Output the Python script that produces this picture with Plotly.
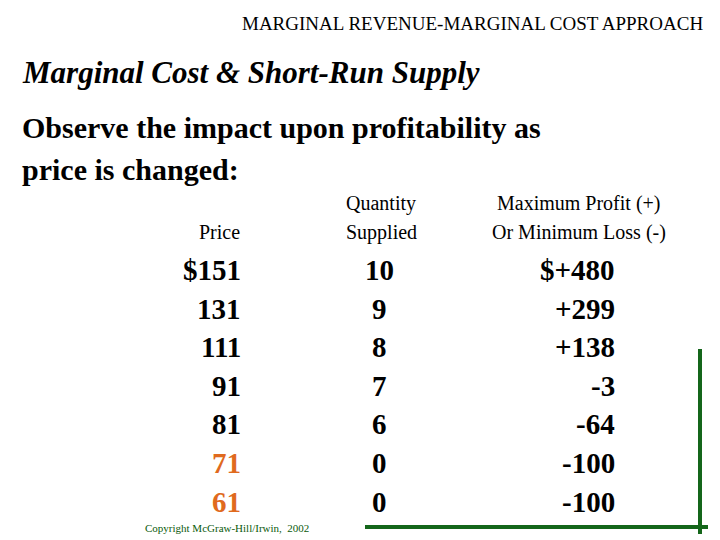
import plotly.graph_objects as go

prices = ["$151", "131", "111", "91", "81", "71", "61"]
quantities = ["10", "9", "8", "7", "6", "0", "0"]
profits = ["$+480", "+299", "+138", "-3", "-64", "-100", "-100"]
orange_rows = [5, 6]

F = "Liberation Serif, Times New Roman, serif"
DX, DY = -10, -9
fig = go.Figure()
ann = []
def A(x, y, t, size, color="black", bold=False, italic=False, xanchor="left"):
    if bold: t = "<b>" + t + "</b>"
    if italic: t = "<i>" + t + "</i>"
    ann.append(dict(x=x + DX, y=y + DY, text=t, showarrow=False, xref="x", yref="y",
                    xanchor=xanchor, yanchor="middle",
                    font=dict(family=F, size=size, color=color)))

A(707, 24, "MARGINAL REVENUE-MARGINAL COST APPROACH", 19, xanchor="right")
A(22, 73, "Marginal Cost & Short-Run Supply", 31, bold=True, italic=True)
A(22, 128, "Observe the impact upon profitability as", 30, bold=True)
A(22, 170, "price is changed:", 30, bold=True)
A(244, 233, "Price", 20, xanchor="right")
A(383, 204, "Quantity", 20, xanchor="center")
A(383, 233, "Supplied", 20, xanchor="center")
A(581, 204, "Maximum Profit (+)", 20, xanchor="center")
A(581, 233, "Or Minimum Loss (-)", 20, xanchor="center")
y0, dy = 271, 38.6
for i in range(len(prices)):
    y = y0 + i * dy
    c = "#E06A1E" if i in orange_rows else "black"
    A(245, y, prices[i], 29, xanchor="right", color=c, bold=True)
    A(381, y, quantities[i], 29, xanchor="center", bold=True)
    A(619, y, profits[i], 29, xanchor="right", bold=True)
A(145, 529, "Copyright McGraw-Hill/Irwin,  2002", 11, color="#0B5A0B")

fig.add_shape(type="line", x0=367 + DX, x1=710 + DX, y0=528 + DY, y1=528 + DY, xref="x", yref="y",
              line=dict(color="#14661A", width=4))
fig.add_shape(type="line", x0=702 + DX, x1=702 + DX, y0=350 + DY, y1=535 + DY, xref="x", yref="y",
              line=dict(color="#14661A", width=4))

fig.update_layout(width=720, height=540, margin=dict(l=0, r=0, t=0, b=0),
                  plot_bgcolor="white", paper_bgcolor="white", annotations=ann,
                  xaxis=dict(range=[0, 720], visible=False),
                  yaxis=dict(range=[540, 0], visible=False), showlegend=False)
fig.write_html("out.html")
